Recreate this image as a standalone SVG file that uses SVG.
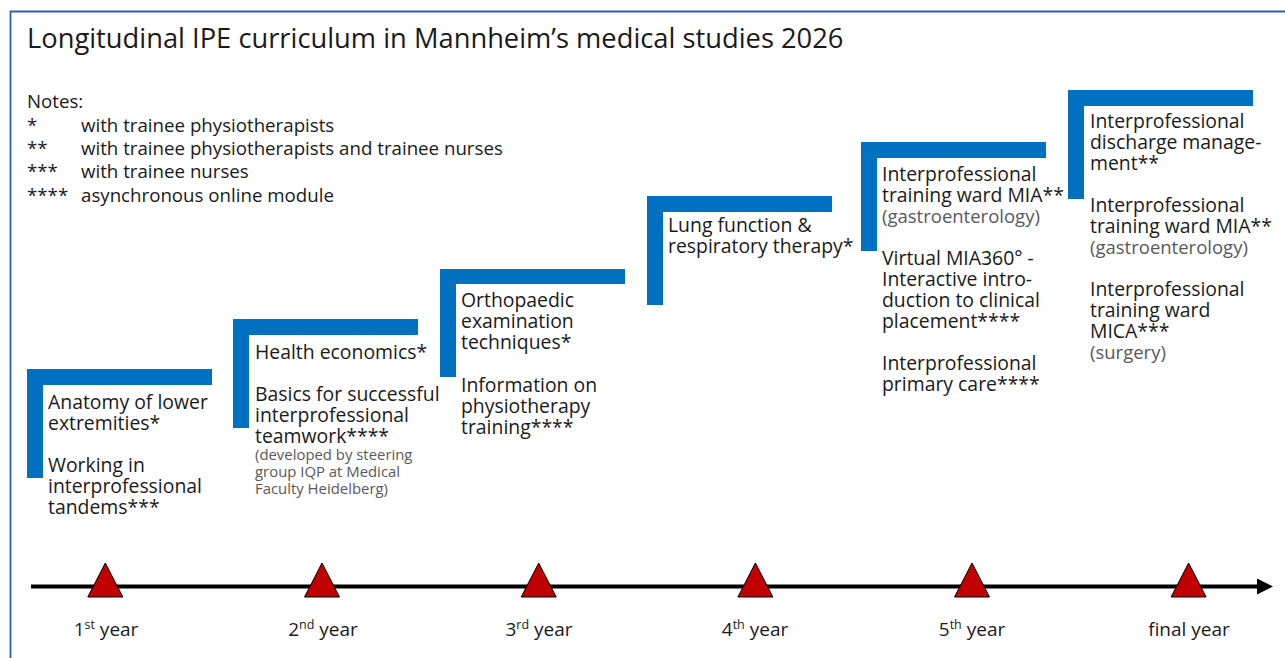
<svg xmlns="http://www.w3.org/2000/svg" width="1285" height="658" viewBox="0 0 1285 658">
  <defs>
    <style>
      text { font-family: "Open Sans", "Noto Sans", "DejaVu Sans", sans-serif; fill: #1a1a1a; }
      .title { font-size: 27.3px; }
      .legend { font-size: 18.7px; }
      .body { font-size: 19.4px; }
      .note { font-size: 18.5px; fill: #595959; }
      .small { font-size: 14.9px; fill: #595959; }
      .year { font-size: 19px; }
      .sup { font-size: 12.5px; }
      .step { fill: #0070C0; }
      .tick { fill: #C00000; stroke: #000; stroke-width: 1; }
    </style>
    <marker id="arrow" viewBox="0 0 16 16" refX="0" refY="8" markerWidth="16" markerHeight="16" markerUnits="userSpaceOnUse" orient="auto">
      <path d="M0,0 L16,8 L0,16 Z" fill="#000"/>
    </marker>
  </defs>

  <rect width="1285" height="658" fill="#fff"/>
  <!-- frame (open to the right and bottom) -->
  <path d="M10.5,700 V11.5 H1300" fill="none" stroke="#2F5EB0" stroke-width="1.8"/>

  <text class="title" x="27" y="48">Longitudinal IPE curriculum in Mannheim’s medical studies 2026</text>

  <g id="notes" class="legend">
    <text x="27" y="108">Notes:</text>
    <text x="27" y="132">*</text><text x="81" y="132">with trainee physiotherapists</text>
    <text x="27" y="155">**</text><text x="81" y="155">with trainee physiotherapists and trainee nurses</text>
    <text x="27" y="178">***</text><text x="81" y="178">with trainee nurses</text>
    <text x="27" y="202">****</text><text x="81" y="202">asynchronous online module</text>
  </g>

  <!-- year steps -->
  <g id="step1">
    <path class="step" d="M27,369 H212 V385 H43 V478 H27 Z"/>
    <text class="body" x="48" y="409">Anatomy of lower</text>
    <text class="body" x="48" y="430">extremities*</text>
    <text class="body" x="48" y="472">Working in</text>
    <text class="body" x="48" y="493">interprofessional</text>
    <text class="body" x="48" y="514">tandems***</text>
  </g>

  <g id="step2">
    <path class="step" d="M233,319 H418 V335 H249 V428 H233 Z"/>
    <text class="body" x="255" y="359">Health economics*</text>
    <text class="body" x="255" y="401">Basics for successful</text>
    <text class="body" x="255" y="422">interprofessional</text>
    <text class="body" x="255" y="443">teamwork****</text>
    <text class="small" x="255" y="460">(developed by steering</text>
    <text class="small" x="255" y="477">group IQP at Medical</text>
    <text class="small" x="255" y="494">Faculty Heidelberg)</text>
  </g>

  <g id="step3">
    <path class="step" d="M440,269 H625 V284 H456 V377 H440 Z"/>
    <text class="body" x="461" y="307">Orthopaedic</text>
    <text class="body" x="461" y="328">examination</text>
    <text class="body" x="461" y="349">techniques*</text>
    <text class="body" x="461" y="392">Information on</text>
    <text class="body" x="461" y="413">physiotherapy</text>
    <text class="body" x="461" y="434">training****</text>
  </g>

  <g id="step4">
    <path class="step" d="M647,196 H832 V212 H663 V305 H647 Z"/>
    <text class="body" x="668" y="232">Lung function &amp;</text>
    <text class="body" x="668" y="253">respiratory therapy*</text>
  </g>

  <g id="step5">
    <path class="step" d="M861,142 H1046 V158 H877 V251 H861 Z"/>
    <text class="body" x="882" y="181">Interprofessional</text>
    <text class="body" x="882" y="202">training ward MIA**</text>
    <text class="note" x="882" y="223">(gastroenterology)</text>
    <text class="body" x="882" y="265">Virtual MIA360° -</text>
    <text class="body" x="882" y="286">Interactive intro-</text>
    <text class="body" x="882" y="307">duction to clinical</text>
    <text class="body" x="882" y="328">placement****</text>
    <text class="body" x="882" y="370">Interprofessional</text>
    <text class="body" x="882" y="391">primary care****</text>
  </g>

  <g id="step6">
    <path class="step" d="M1068,90 H1253 V106 H1084 V199 H1068 Z"/>
    <text class="body" x="1090" y="128">Interprofessional</text>
    <text class="body" x="1090" y="149">discharge manage-</text>
    <text class="body" x="1090" y="170">ment**</text>
    <text class="body" x="1090" y="212">Interprofessional</text>
    <text class="body" x="1090" y="233">training ward MIA**</text>
    <text class="note" x="1090" y="254">(gastroenterology)</text>
    <text class="body" x="1090" y="296">Interprofessional</text>
    <text class="body" x="1090" y="317">training ward</text>
    <text class="body" x="1090" y="338">MICA***</text>
    <text class="note" x="1090" y="359">(surgery)</text>
  </g>

  <!-- timeline -->
  <g id="connectors">
    <line x1="31" y1="586.5" x2="1257" y2="586.5" stroke="#000" stroke-width="4" marker-end="url(#arrow)"/>
  </g>

  <g id="ticks">
    <path class="tick" d="M105.3,563 L122.8,597 L87.8,597 Z"/>
    <path class="tick" d="M322,563 L339.5,597 L304.5,597 Z"/>
    <path class="tick" d="M538.7,563 L556.2,597 L521.2,597 Z"/>
    <path class="tick" d="M755.4,563 L772.9,597 L737.9,597 Z"/>
    <path class="tick" d="M972,563 L989.5,597 L954.5,597 Z"/>
    <path class="tick" d="M1188.6,563 L1206.1,597 L1171.1,597 Z"/>
  </g>

  <g id="years" class="year" text-anchor="middle">
    <text x="106" y="636">1<tspan class="sup" dy="-7">st</tspan><tspan dy="7"> year</tspan></text>
    <text x="323" y="636">2<tspan class="sup" dy="-7">nd</tspan><tspan dy="7"> year</tspan></text>
    <text x="539" y="636">3<tspan class="sup" dy="-7">rd</tspan><tspan dy="7"> year</tspan></text>
    <text x="755" y="636">4<tspan class="sup" dy="-7">th</tspan><tspan dy="7"> year</tspan></text>
    <text x="972" y="636">5<tspan class="sup" dy="-7">th</tspan><tspan dy="7"> year</tspan></text>
    <text x="1189" y="636">final year</text>
  </g>
</svg>
